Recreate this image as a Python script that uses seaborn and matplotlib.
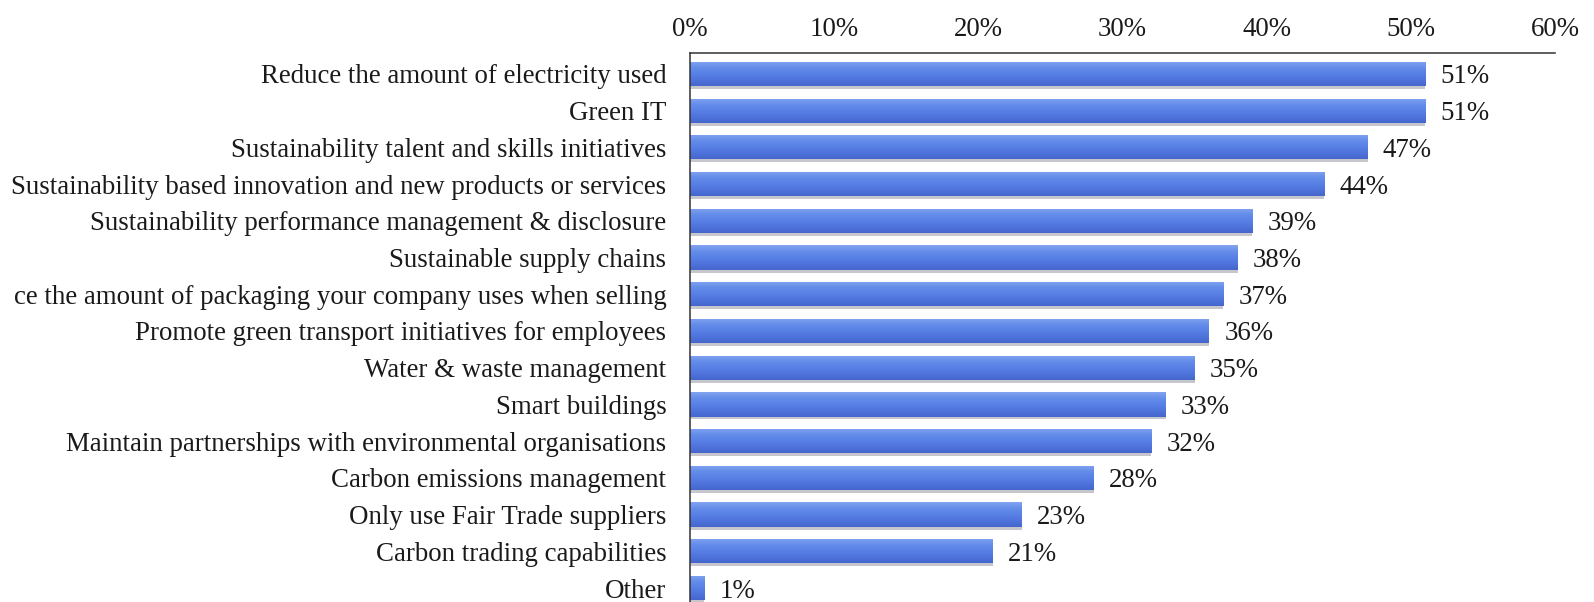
import matplotlib
matplotlib.use("Agg")
import matplotlib.pyplot as plt
import matplotlib.colors as mcolors
import seaborn as sns
import numpy as np
import pandas as pd

categories = [
    "Reduce the amount of electricity used",
    "Green IT",
    "Sustainability talent and skills initiatives",
    "Sustainability based innovation and new products or services",
    "Sustainability performance management & disclosure",
    "Sustainable supply chains",
    "ce the amount of packaging your company uses when selling",
    "Promote green transport initiatives for employees",
    "Water & waste management",
    "Smart buildings",
    "Maintain partnerships with environmental organisations",
    "Carbon emissions management",
    "Only use Fair Trade suppliers",
    "Carbon trading capabilities",
    "Other",
]
values = [51, 51, 47, 44, 39, 38, 37, 36, 35, 33, 32, 28, 23, 21, 1]
tick_values = [0, 10, 20, 30, 40, 50, 60]

df = pd.DataFrame({"category": categories, "value": values})

sns.set_theme(style="white")
plt.rcParams["font.family"] = ["Liberation Serif", "DejaVu Serif"]
FS = 19.4

W, H = 1594, 602
fig = plt.figure(figsize=(W / 100, H / 100), dpi=100)
left, right = 690 / W, 1555 / W
top, bottom = 1 - 53 / H, 0.0
ax = fig.add_axes([left, bottom, right - left, top - bottom])

# soft grey drop shadow under each bar
sns.barplot(data=df, x="value", y="category", color="#8e8e9a",
            orient="h", width=0.66, ax=ax, saturation=1)
for p in ax.patches:
    p.set_y(p.get_y() + 0.08)
    p.set_alpha(0.5)
    p.set_edgecolor("none")
n_shadow = len(ax.patches)

sns.barplot(data=df, x="value", y="category", color="#5b84e4",
            orient="h", width=0.66, ax=ax, saturation=1)

# vertical shading: light top, mid blue body, darker lower edge
cmap = mcolors.LinearSegmentedColormap.from_list(
    "barshade", ["#82a4f0", "#648dea", "#5981e6", "#4f74dc", "#4566cc"])
grad = np.linspace(0, 1, 64).reshape(-1, 1)
for p in ax.patches[n_shadow:]:
    x0, y0 = p.get_x(), p.get_y()
    w, h = p.get_width(), p.get_height()
    p.set_facecolor("none")
    p.set_edgecolor("none")
    im = ax.imshow(grad, cmap=cmap, aspect="auto", interpolation="bilinear",
                   extent=(x0, x0 + w, y0 + h, y0), zorder=2.5)
    im.set_clip_path(p)

ax.set_xlim(0, 60)
ax.set_ylim(len(categories) - 0.62, -0.57)
ax.set_xticks(tick_values)
ax.set_xticklabels([f"{t}%" for t in tick_values], fontsize=FS, color="#1a1a1a")
ax.xaxis.tick_top()
ax.tick_params(axis="x", length=0, pad=8)
ax.tick_params(axis="y", length=0, pad=17)
ax.set_yticks(range(len(categories)))
ax.set_yticklabels(categories, fontsize=FS, color="#1a1a1a")
ax.set_xlabel("")
ax.set_ylabel("")

for s in ["right", "bottom"]:
    ax.spines[s].set_visible(False)
for s in ["top", "left"]:
    ax.spines[s].set_color("#333333")
    ax.spines[s].set_linewidth(1.1)
    ax.spines[s].set_zorder(4)

for i, v in enumerate(values):
    ax.annotate(f"{v}%", xy=(v, i), xytext=(11, 0), textcoords="offset points",
                va="center_baseline", ha="left", fontsize=FS, color="#1a1a1a")

fig.savefig("out.png", dpi=100)
